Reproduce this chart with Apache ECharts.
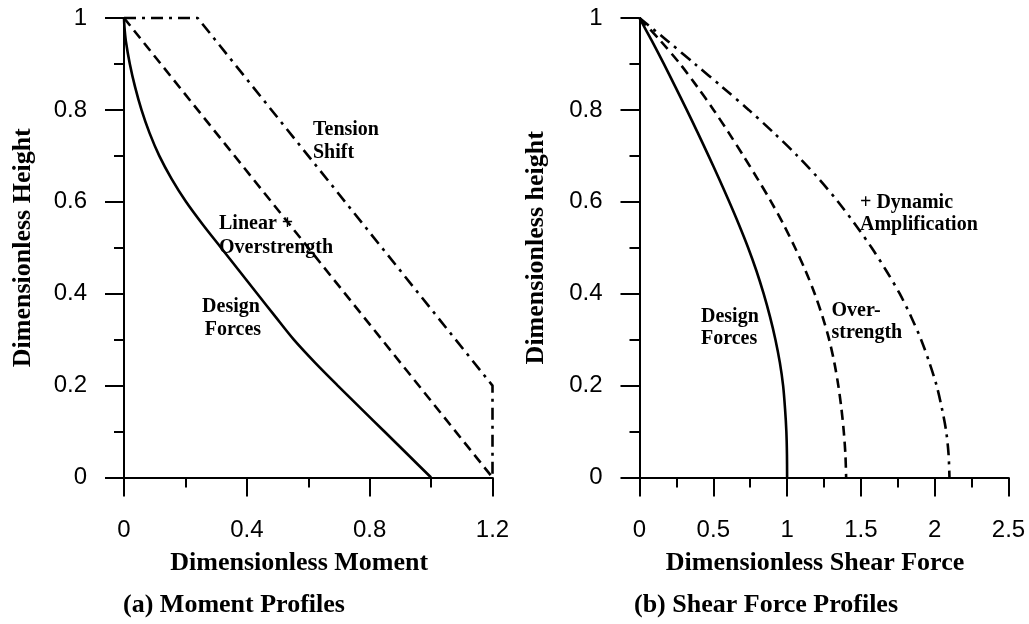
<!DOCTYPE html>
<html>
<head>
<meta charset="utf-8">
<script src="https://cdn.jsdelivr.net/npm/echarts@6/dist/echarts.min.js"></script>
<style>
html,body{margin:0;padding:0;background:#fff;}
#chart{width:1029px;height:624px;}
</style>
</head>
<body>
<div id="chart"></div>
<script>
// ---------- (a) Moment profiles ----------
const momentXTicks = [0, 0.4, 0.8, 1.2];
const heightTicks = [0, 0.2, 0.4, 0.6, 0.8, 1];
const momentDesignH = [1, 0.98, 0.95, 0.9, 0.85, 0.8, 0.75, 0.7, 0.65, 0.6, 0.55, 0.5, 0.45, 0.4, 0.35, 0.3, 0.25, 0.2, 0.15, 0.1, 0.05, 0];
const momentDesignM = [0, 0.0015, 0.006, 0.019, 0.036, 0.057, 0.083, 0.115, 0.155, 0.202, 0.257, 0.316, 0.375, 0.434, 0.493, 0.553, 0.622, 0.696, 0.772, 0.848, 0.924, 1.0];
const momentLinearH = [1, 0];
const momentLinearM = [0, 1.2];
const momentShiftH = [1, 1, 0.2, 0];
const momentShiftM = [0, 0.24, 1.2, 1.2];

// ---------- (b) Shear force profiles ----------
const shearXTicks = [0, 0.5, 1, 1.5, 2, 2.5];
const shearH = [1, 0.95, 0.9, 0.85, 0.8, 0.75, 0.7, 0.65, 0.6, 0.55, 0.5, 0.45, 0.4, 0.35, 0.3, 0.25, 0.2, 0.15, 0.1, 0.05, 0];
const shearDesign = [0, 0.084, 0.165, 0.243, 0.32, 0.395, 0.468, 0.539, 0.608, 0.674, 0.736, 0.792, 0.841, 0.884, 0.921, 0.951, 0.973, 0.986, 0.995, 0.999, 1.0];
const shearOver = [0, 0.143, 0.275, 0.392, 0.502, 0.605, 0.704, 0.80, 0.892, 0.977, 1.054, 1.125, 1.187, 1.24, 1.285, 1.32, 1.347, 1.368, 1.384, 1.395, 1.40];
const shearDynamic = [0, 0.19, 0.375, 0.56, 0.74, 0.91, 1.07, 1.215, 1.345, 1.463, 1.573, 1.672, 1.763, 1.84, 1.908, 1.964, 2.013, 2.049, 2.078, 2.094, 2.1];

// ---------- labels ----------
const axisNames = ['Dimensionless Moment', 'Dimensionless Height', 'Dimensionless Shear Force', 'Dimensionless height'];
const captions = ['(a) Moment Profiles', '(b) Shear Force Profiles'];

const pairs = (xs, ys) => xs.map((x, i) => [x, ys[i]]);

const BLACK = '#000';
const tickFont = {color: BLACK, fontFamily: 'Liberation Sans', fontSize: 24};
const nameFont = {color: BLACK, fontFamily: 'Liberation Serif', fontWeight: 'bold', fontSize: 26};
const axisLine = {show: true, onZero: false, lineStyle: {color: BLACK, width: 2}};
const axisTick = {show: true, inside: false, length: 19, lineStyle: {color: BLACK, width: 2}};
const minorTick = {show: true, splitNumber: 2, length: 10, lineStyle: {color: BLACK, width: 2}};

function xAxisCfg(gridIndex, ticks, name) {
  return {
    type: 'value', gridIndex,
    min: ticks[0], max: ticks[ticks.length - 1], interval: ticks[1] - ticks[0],
    axisLine, axisTick, minorTick,
    splitLine: {show: false}, minorSplitLine: {show: false},
    axisLabel: Object.assign({margin: 41}, tickFont),
    name, nameLocation: 'middle', nameGap: 73,
    nameTextStyle: Object.assign({padding: [0, 18, 0, 0]}, nameFont)
  };
}
function yAxisCfg(gridIndex, ticks, name, gap) {
  return {
    type: 'value', gridIndex,
    min: ticks[0], max: ticks[ticks.length - 1], interval: ticks[1] - ticks[0],
    axisLine, axisTick, minorTick,
    splitLine: {show: false}, minorSplitLine: {show: false},
    axisLabel: Object.assign({margin: 37}, tickFont),
    name, nameLocation: 'middle', nameGap: gap, nameRotate: 90,
    nameTextStyle: nameFont
  };
}
function lineSeries(xi, data, type, smooth) {
  return {
    type: 'line', xAxisIndex: xi, yAxisIndex: xi, data,
    symbol: 'none', showSymbol: false, clip: false, smooth: smooth,
    lineStyle: {color: BLACK, width: 2.6, type: type, cap: 'butt'},
    z: 3
  };
}
function txt(text, x, y, align, size) {
  return {
    type: 'text', x, y, z: 10,
    style: {
      text, fill: BLACK,
      font: 'bold ' + size + 'px "Liberation Serif"',
      align: align, verticalAlign: 'middle',
      textAlign: align, textVerticalAlign: 'middle'
    }
  };
}

const DASH = [10, 6];
const DASHDOT = [12, 6, 3, 6];

const option = {
  animation: false,
  backgroundColor: '#fff',
  grid: [
    {left: 124, top: 18, width: 368.5, height: 459.5},
    {left: 639.5, top: 18, width: 369, height: 459.5}
  ],
  xAxis: [
    xAxisCfg(0, momentXTicks, axisNames[0]),
    xAxisCfg(1, shearXTicks, axisNames[2])
  ],
  yAxis: [
    yAxisCfg(0, heightTicks, axisNames[1], 88),
    yAxisCfg(1, heightTicks, axisNames[3], 90)
  ],
  series: [
    lineSeries(0, pairs(momentDesignM, momentDesignH), 'solid', 0.3),
    lineSeries(0, pairs(momentLinearM, momentLinearH), DASH, false),
    lineSeries(0, pairs(momentShiftM, momentShiftH), DASHDOT, false),
    lineSeries(1, pairs(shearDesign, shearH), 'solid', 0.3),
    lineSeries(1, pairs(shearOver, shearH), DASH, 0.3),
    lineSeries(1, pairs(shearDynamic, shearH), DASHDOT, 0.3)
  ],
  graphic: [
    txt('Tension', 313, 130, 'left', 20),
    txt('Shift', 313, 153, 'left', 20),
    txt('Linear +', 219, 224, 'left', 20),
    txt('Overstrength', 219, 247.5, 'left', 20),
    txt('Design', 231, 307, 'center', 20),
    txt('Forces', 233, 330, 'center', 20),
    txt('+ Dynamic', 860, 202.5, 'left', 20),
    txt('Amplification', 860, 225, 'left', 20),
    txt('Design', 701, 316.5, 'left', 20),
    txt('Forces', 701, 339, 'left', 20),
    txt('Over-', 831.5, 310.5, 'left', 20),
    txt('strength', 831.5, 333, 'left', 20),
    txt(captions[0], 234, 605, 'center', 26),
    txt(captions[1], 766, 605, 'center', 26)
  ]
};

const chart = echarts.init(document.getElementById('chart'), null, {renderer: 'canvas'});
chart.setOption(option);
</script>
</body>
</html>
